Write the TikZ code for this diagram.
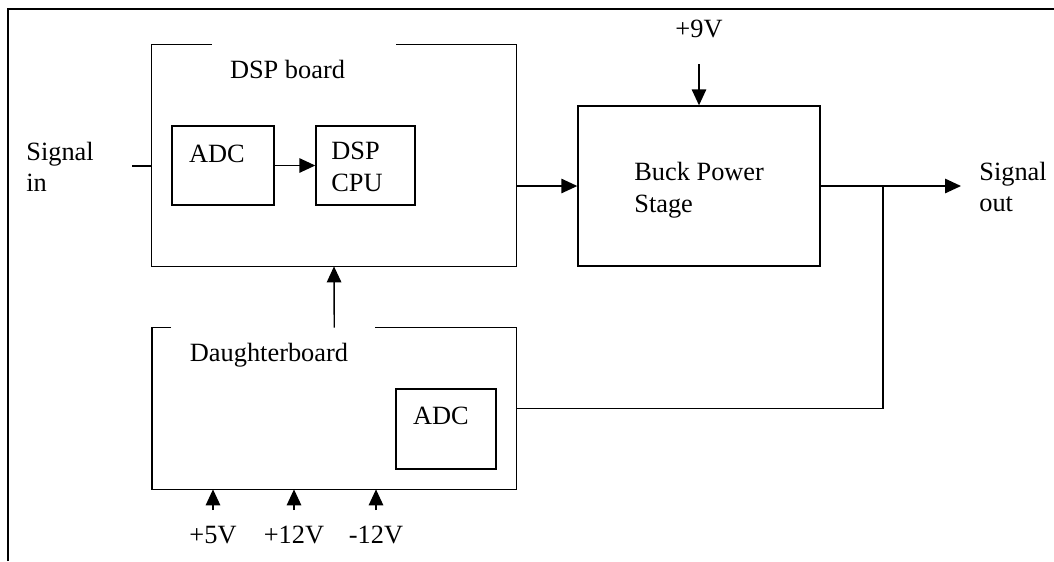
\documentclass[tikz,border=0pt]{standalone}
\usepackage{fontspec}
\setmainfont{Liberation Serif}
\usetikzlibrary{arrows.meta,positioning,calc}
\tikzset{
  blk/.style={draw,line width=0.8pt,inner sep=0pt},
  hid/.style={inner sep=0pt},
  wire/.style={line width=0.8pt},
  arr/.style={line width=0.8pt,-{Triangle[length=3.2mm,width=2.9mm]}},
  lbl/.style={inner sep=0pt,align=left},
  rim/.style={line width=1.5pt},
}

\begin{document}
\begin{tikzpicture}[font=\fontsize{15}{18}\selectfont]
  \useasboundingbox (0,0) rectangle (21.08,-11.22);
  \draw[rim] (0.16,-11.22) -- (0.16,-0.18) -- (21.08,-0.18);
  % DSP board, open in the top edge
  \node[hid,minimum width=7.28cm,minimum height=4.42cm] (dsp) at (6.68,-3.11) {};
  \draw[wire] ($(dsp.north west)+(1.2,0)$) -- (dsp.north west) -- (dsp.south west)
    -- (dsp.south east) -- (dsp.north east) -- ($(dsp.north east)+(-2.4,0)$);
  \node[lbl,anchor=base] (dsptxt) at (5.75,-1.56) {DSP board};
  \node[blk,minimum width=2.04cm,minimum height=1.58cm] (adc) at (4.46,-3.31) {};
  \node[lbl,anchor=base] (adctxt) at (4.34,-3.24) {ADC};
  \node[blk,minimum width=1.98cm,minimum height=1.58cm] (cpu) at (7.31,-3.31) {};
  \node[lbl,anchor=west] (cputxt) at (6.62,-3.34) {DSP\\CPU};
  % Buck stage
  \node[blk,minimum width=4.84cm,minimum height=3.2cm] (buck) at (13.98,-3.72) {};
  \node[lbl,anchor=west] (bucktxt) at (12.68,-3.80) {Buck Power\\Stage};
  % Daughterboard, open in the top edge
  \node[hid,minimum width=7.27cm,minimum height=3.22cm] (db) at (6.685,-8.17) {};
  \draw[wire] ($(db.north west)+(0.38,0)$) -- (db.north west) -- (db.south west)
    -- (db.south east) -- (db.north east) -- ($(db.north east)+(-2.82,0)$);
  \node[lbl,anchor=base] (dbtxt) at (5.38,-7.23) {Daughterboard};
  \node[blk,minimum width=2.0cm,minimum height=1.6cm] (adcb) at (8.92,-8.58) {};
  \node[lbl,anchor=base] (adcbtxt) at (8.82,-8.48) {ADC};
  % signals
  \node[lbl,anchor=west] (sintxt) at (0.52,-3.34) {Signal\\in};
  \node[lbl,anchor=west] (souttxt) at (19.58,-3.74) {Signal\\out};
  \node[lbl,anchor=base] (v9txt) at (13.98,-0.74) {+9V};
  \coordinate (sin) at (2.64,-3.32);
  \coordinate (sout) at (19.22,-3.72);
  \coordinate (jn) at (17.66,-3.72);
  \coordinate (v9) at (13.98,-1.28);
  \draw[wire] (sin) -- (sin -| dsp.west);
  \draw[arr] (adc.east) -- (cpu.west);
  \draw[arr] (dsp.east |- buck.west) -- (buck.west);
  \draw[arr] (v9) -- (v9 |- buck.north);
  \draw[arr] (buck.east) -- (sout);
  \draw[wire] (db.east) -| (jn);
  \draw[arr] (db.north) -- (dsp.south);
  % supply inputs
  \foreach \x/\n/\t in {4.26/pa/+5V,5.88/pb/+12V,7.52/pc/-12V}{
    \coordinate (\n) at (\x,-10.2);
    \draw[arr] (\n) -- (\n |- db.south);
    \node[lbl,anchor=base] (\n txt) at (\x,-10.86) {\t};
  }
\end{tikzpicture}
\end{document}
